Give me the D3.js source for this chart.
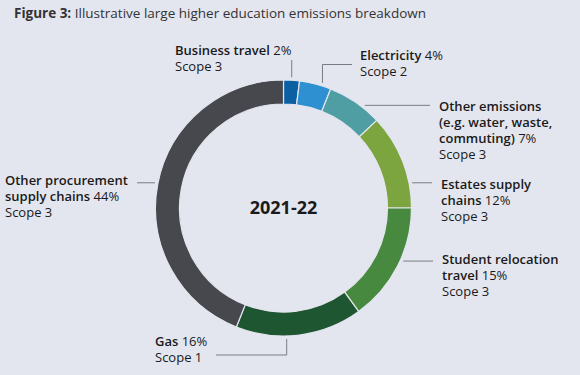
<!DOCTYPE html>
<html>
<head>
<meta charset="utf-8">
<script src="https://cdn.jsdelivr.net/npm/d3@7.9.0/dist/d3.min.js"></script>
<style>
  html, body { margin: 0; padding: 0; background: #e4e6ef; }
  svg { display: block; font-family: "Open Sans", "Noto Sans", sans-serif; }
</style>
</head>
<body>
<div id="chart"></div>
<script>
// === Data ===
const categories = [
    "Business travel",
    "Electricity",
    "Other emissions (e.g. water, waste, commuting)",
    "Estates supply chains",
    "Student relocation travel",
    "Gas",
    "Other procurement supply chains"
];
const shares = [2, 4, 7, 12, 15, 16, 44];
const scopes = ["Scope 3", "Scope 2", "Scope 3", "Scope 3", "Scope 3", "Scope 1", "Scope 3"];
const colors = ["#0b5fa3", "#2f90d1", "#4f9ea3", "#7ca43f", "#47893e", "#1e5632", "#47484d"];

// how each name wraps onto lines (last line gets the percentage)
const nameLines = [
    ["Business travel"],
    ["Electricity"],
    ["Other emissions", "(e.g. water, waste,", "commuting)"],
    ["Estates supply", "chains"],
    ["Student relocation", "travel"],
    ["Gas"],
    ["Other procurement", "supply chains"]
];

const yearLabel = "2021-22";

// === Layout ===
const width = 580, height = 375;
const cx = 283.5, cy = 208;
const outerR = 128, innerR = 104;
const lineH = 16;
const labelSize = 13;

// label anchor (first baseline) and leader: angle on ring (deg, clockwise from top)
// kind "h": straight horizontal to x2; "v": vertical to y2 (then optional horizontal to x2)
const labelLayout = [
    { x: 175, y: 55,  angle: 3.6,   kind: "v", y2: 60 },
    { x: 360, y: 60,  angle: 17.3,  kind: "v", y2: 64.5, x2: 352 },
    { x: 439, y: 111, angle: 38.4,  kind: "h", x2: 430 },
    { x: 441, y: 189, angle: 78.9,  kind: "h", x2: 432 },
    { x: 442, y: 264, angle: 113.9, kind: "h", x2: 433 },
    { x: 155, y: 346, angle: 178.6, kind: "v", y2: 355, x2: 216 },
    { x: 5,   y: 185, angle: 281.1, kind: "h", x2: 137 }
];

const svg = d3.select("#chart")
    .append("svg")
    .attr("width", width)
    .attr("height", height);

svg.append("rect")
    .attr("width", width)
    .attr("height", height)
    .attr("fill", "#e4e6ef");

// === Title ===
const title = svg.append("text")
    .attr("x", 14)
    .attr("y", 18)
    .attr("font-size", 13.5)
    .attr("fill", "#333");
title.append("tspan").attr("font-weight", "bold").text("Figure 3:");
title.append("tspan").text(" Illustrative large higher education emissions breakdown");

// === Donut ===
const pie = d3.pie().sort(null).value(d => d);
const arcs = pie(shares);
const arc = d3.arc().innerRadius(innerR).outerRadius(outerR);

const g = svg.append("g").attr("transform", `translate(${cx},${cy})`);

g.selectAll("path")
    .data(arcs)
    .join("path")
    .attr("d", arc)
    .attr("fill", (d, i) => colors[i])
    .attr("stroke", "#e4e6ef")
    .attr("stroke-width", 1.2);

g.append("text")
    .attr("text-anchor", "middle")
    .attr("y", 6)
    .attr("font-size", 18)
    .attr("font-weight", "bold")
    .attr("fill", "#1a1a1a")
    .text(yearLabel);

// === Leaders ===
function ringPoint(angleDeg, r) {
    const a = angleDeg * Math.PI / 180;
    return [cx + r * Math.sin(a), cy - r * Math.cos(a)];
}

labelLayout.forEach(L => {
    const [px, py] = ringPoint(L.angle, outerR + 3);
    let pts;
    if (L.kind === "h") {
        pts = [[px, py], [L.x2, py]];
    } else {
        pts = [[px, py], [px, L.y2]];
        if (L.x2 !== undefined) pts.push([L.x2, L.y2]);
    }
    svg.append("path")
        .attr("d", d3.line()(pts))
        .attr("fill", "none")
        .attr("stroke", "#7a7c82")
        .attr("stroke-width", 1);
});

// === Labels ===
categories.forEach((c, i) => {
    const L = labelLayout[i];
    const t = svg.append("text")
        .attr("x", L.x)
        .attr("y", L.y)
        .attr("font-size", labelSize)
        .attr("fill", "#1a1a1a");
    const lines = nameLines[i];
    lines.forEach((ln, j) => {
        t.append("tspan")
            .attr("x", L.x)
            .attr("y", L.y + j * lineH)
            .attr("font-weight", 600)
            .text(ln);
        if (j === lines.length - 1) {
            t.append("tspan").text(" " + shares[i] + "%");
        }
    });
    t.append("tspan")
        .attr("x", L.x)
        .attr("y", L.y + lines.length * lineH)
        .text(scopes[i]);
});
</script>
</body>
</html>
